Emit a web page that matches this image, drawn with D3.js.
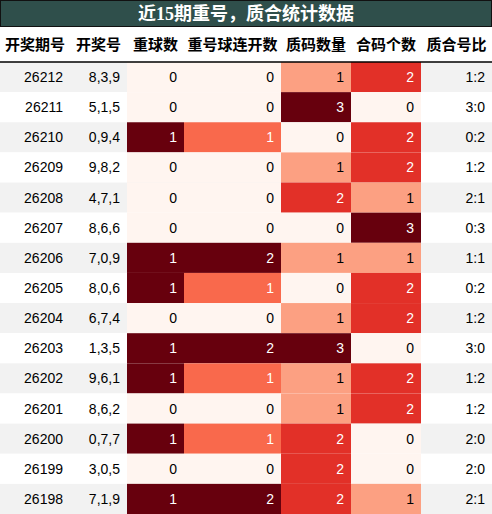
<!DOCTYPE html>
<html><head><meta charset="utf-8">
<script src="https://cdn.jsdelivr.net/npm/d3@7"></script>
<style>body{margin:0;background:#fff}</style>
</head><body>
<script>
// table data
const periods = ["26212","26211","26210","26209","26208","26207","26206","26205","26204","26203","26202","26201","26200","26199","26198"];
const draws = ["8,3,9","5,1,5","0,9,4","9,8,2","4,7,1","8,6,6","7,0,9","8,0,6","6,7,4","1,3,5","9,6,1","8,6,2","0,7,7","3,0,5","7,1,9"];
const repeatCnt = [0,0,1,0,0,0,1,1,0,1,1,0,1,0,1];
const repeatRun = [0,0,1,0,0,0,2,1,0,2,1,0,1,0,2];
const primeCnt = [1,3,0,1,2,0,1,0,1,3,1,1,2,2,2];
const compCnt = [2,0,2,2,1,3,1,2,2,0,2,2,0,0,1];
const ratios = ["1:2","3:0","0:2","1:2","2:1","0:3","1:1","0:2","1:2","3:0","1:2","1:2","2:0","2:0","2:1"];
const headers = ["开奖期号","开奖号","重球数","重号球连开数","质码数量","合码个数","质合号比"];

const W = 492, H = 514;
const svg = d3.select("body").append("svg").attr("width", W).attr("height", H)
  .style("font-family", "'Liberation Sans','Noto Sans CJK SC',sans-serif");

const colEdges = [0, 70, 127, 184, 281, 351, 421, 492];
const titleH = 26, headBottom = 62;
const y = d3.scaleBand().domain(d3.range(periods.length)).range([headBottom, H]);

// title
svg.append("rect").attr("x", 0.5).attr("y", 0.5).attr("width", W - 1).attr("height", titleH)
  .attr("fill", "#2f4f4b").attr("stroke", "#111");
svg.append("text").attr("x", W / 2).attr("y", 20).attr("text-anchor", "middle")
  .attr("fill", "#fff").attr("font-size", 18).attr("font-weight", "bold")
  .style("font-family", "'Liberation Serif','Noto Sans CJK SC',serif")
  .text("近15期重号，质合统计数据");

// header
headers.forEach((h, i) => {
  svg.append("text").attr("x", (colEdges[i] + colEdges[i + 1]) / 2).attr("y", 50)
    .attr("text-anchor", "middle").attr("font-size", 15).attr("font-weight", "bold")
    .style("font-family", "'Noto Sans CJK SC',sans-serif").text(h);
});

const heatCols = [repeatCnt, repeatRun, primeCnt, compCnt];
const cols = [periods, draws, ...heatCols, ratios];

periods.forEach((p, r) => {
  const y0 = y(r), bh = y.bandwidth();
  svg.append("rect").attr("x", 0).attr("y", y0).attr("width", W).attr("height", bh)
    .attr("fill", r % 2 === 0 ? "#f2f2f2" : "#fff");
  cols.forEach((col, c) => {
    let txtColor = "#000";
    if (c >= 2 && c <= 5) {
      const mx = d3.max(col);
      const t = col[r] / mx;
      svg.append("rect").attr("x", colEdges[c]).attr("y", y0)
        .attr("width", colEdges[c + 1] - colEdges[c]).attr("height", bh + 0.5)
        .attr("fill", d3.interpolateReds(t));
      if (t >= 0.5) txtColor = "#fff";
    }
    svg.append("text").attr("x", colEdges[c + 1] - 7).attr("y", y0 + bh / 2 + 5)
      .attr("text-anchor", "end").attr("font-size", 14).attr("fill", txtColor)
      .text(col[r]);
  });
});

svg.append("line").attr("x1", 0).attr("x2", W).attr("y1", headBottom).attr("y2", headBottom)
  .attr("stroke", "#000").attr("stroke-width", 1.5);
</script>
</body></html>
